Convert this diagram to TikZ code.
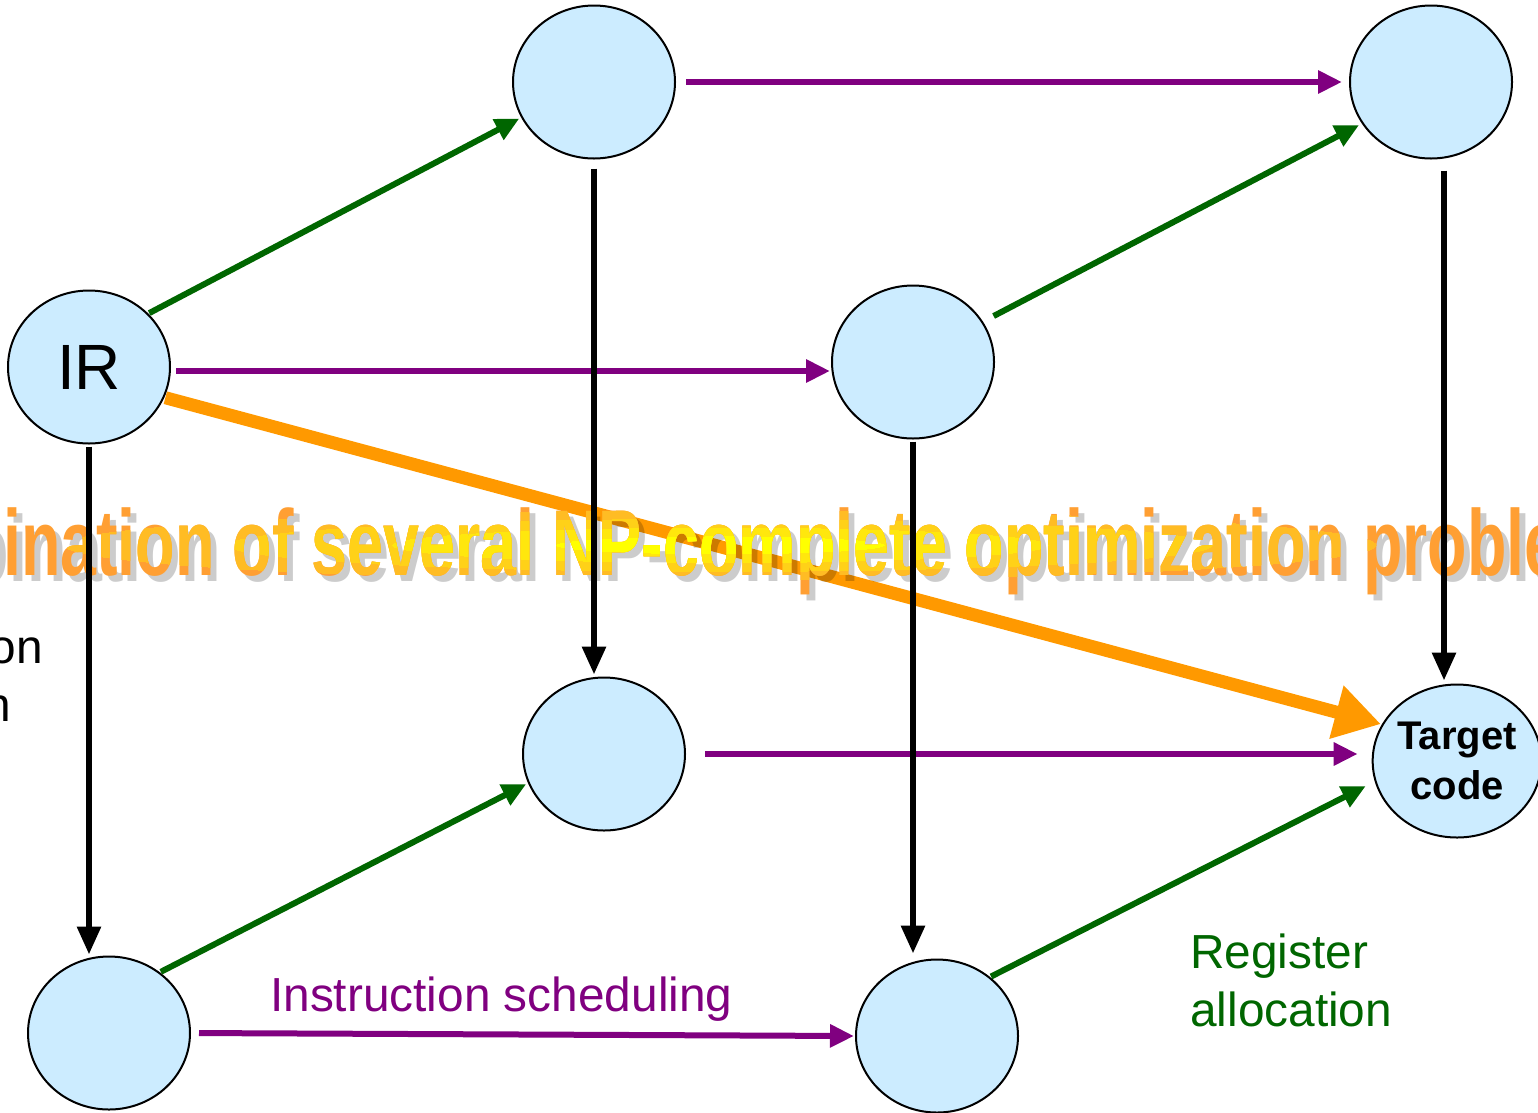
\documentclass[tikz,border=0pt]{standalone}
\usepackage{fontspec}
\setmainfont{Liberation Sans}
\usepackage{graphicx}
\usetikzlibrary{arrows.meta, positioning, calc, shapes.geometric}
\definecolor{nodeblue}{HTML}{CCECFF}
\definecolor{allocgreen}{HTML}{006600}
\definecolor{schedpurple}{HTML}{800080}
\definecolor{directorange}{HTML}{FF9900}
\definecolor{bannerorange}{HTML}{FF9F33}
\definecolor{banneryellow}{HTML}{FFFF00}
\newcommand{\bannertext}{\scalebox{0.69}[1]{Combination of several NP-complete optimization problems}}

\begin{document}
\begin{tikzpicture}[
  x=1pt, y=1pt,
  state/.style={ellipse, draw, line width=2pt, fill=nodeblue,
                minimum width=162pt, minimum height=153pt, inner sep=0pt},
  allocarr/.style={-{Triangle[length=24pt, width=22pt]}, line width=6pt, allocgreen},
  schedarr/.style={-{Triangle[length=24pt, width=22pt]}, line width=6pt, schedpurple},
  selarr/.style={-{Triangle[length=28pt, width=23pt]}, line width=6pt, black},
  bigarr/.style={-{Triangle[length=46pt, width=52pt]}, line width=13pt, directorange},
  banner/.style={anchor=base west, inner sep=0pt, font=\bfseries\fontsize{93.6}{93.6}\selectfont},
  every node/.style={font=\fontsize{47.8}{57.4}\selectfont}
]
  \useasboundingbox (0,0) rectangle (1538,-1112);
  \clip (0,0) rectangle (1538,-1112);

  % States of the cube
  \node[state, font=\fontsize{64}{64}\selectfont] (ir) at (89,-367) {IR};
  \node[state] (ra) at (594,-82) {};
  \node[state] (rais) at (1431,-82) {};
  \node[state] (is) at (913,-362) {};
  \node[state] (rasel) at (604,-754) {};
  \node[state, align=center, font=\bfseries\fontsize{40}{50}\selectfont] (tgt) at (1457,-761) {Target\\code};
  \node[state] (sel) at (109,-1033) {};
  \node[state] (issel) at (937,-1036) {};

  % Labels, partly cut by the frame
  \node[anchor=north west, align=left, inner sep=0pt] (sellbl) at (-178,-629) {Instruction\\selection};
  \node[anchor=base west, text=schedpurple, inner sep=0pt] (schedlbl) at (270,-1011) {Instruction scheduling};
  \node[anchor=north west, align=left, inner sep=0pt, text=allocgreen] (alloclbl) at (1190,-934) {Register\\allocation};

  % Arrows
  \draw[allocarr, shorten <=1pt, shorten >=2pt] (ir.42) -- (ra.206);
  \draw[allocarr, shorten <=12pt, shorten >=3pt] (is.30) -- (rais.211);
  \draw[allocarr, shorten <=1pt, shorten >=2pt] (sel.50) -- (rasel.201);
  \draw[allocarr, shorten <=1pt, shorten >=10pt] (issel.48) -- (tgt.194);
  \draw[schedarr, shorten <=10pt, shorten >=7pt] (ra.east) -- (rais.west);
  \draw[schedarr, shorten <=5pt, shorten >=1pt] ([yshift=-4pt]ir.east) -- ([yshift=-4pt]ir.east -| is.west);
  \draw[schedarr, shorten <=19pt, shorten >=14pt] (rasel.east) -- (rasel.east -| tgt.west);
  \draw[schedarr, shorten <=8pt, shorten >=1pt] (sel.east) -- (issel.west);
  \draw[bigarr, shorten <=1pt, shorten >=1pt] (ir.-22) -- (tgt.154);

  % Banner over the picture, yellow towards its middle
  \node[banner, text=black, text opacity=0.2] (bannershadow) at (-174,-581) {\bannertext};
  \node[banner, text=bannerorange] (banner) at (-180,-575) {\bannertext};
  \foreach \k/\mix in {0.8/30, 0.6/52, 0.4/75, 0.2/100} {
    \begin{scope}
      \clip (720,-545) ellipse ({820*\k} and {44*\k});
      \node[banner, text=banneryellow!\mix!bannerorange] at (banner.base west) {\bannertext};
    \end{scope}
  }

  % Selection arrows drawn last
  \draw[selarr, shorten <=2pt, shorten >=1pt] (ir.south) -- (ir.south |- sel.north);
  \draw[selarr, shorten <=9pt, shorten >=2pt] (ra.south) -- (ra.south |- rasel.north);
  \draw[selarr, shorten <=2pt, shorten >=5pt] (is.south) -- (is.south |- issel.north);
  \draw[selarr, shorten <=11pt, shorten >=3pt] ([xshift=13pt]rais.south) -- ([xshift=-13pt]tgt.north);
\end{tikzpicture}
\end{document}
